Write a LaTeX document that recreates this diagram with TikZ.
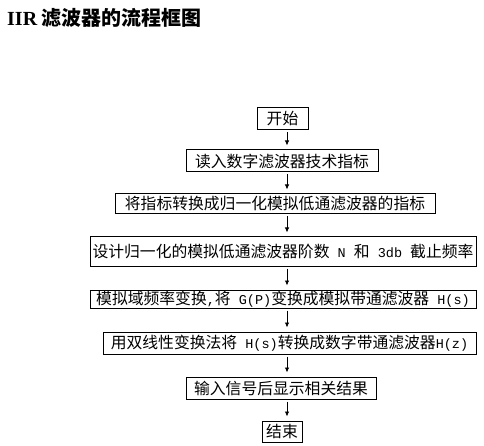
\documentclass[tikz,border=0pt]{standalone}
\usepackage{fontspec}
\usetikzlibrary{arrows.meta}
\setmainfont{Noto Sans CJK SC}
\newfontfamily\titlelat{Liberation Serif}
\newfontfamily\latfont{Liberation Mono}
\newcommand{\lat}[1]{{\fontsize{13.5}{13.5}\latfont #1}}
\begin{document}
\begin{tikzpicture}[x=1pt,y=-1pt,
  box/.style={draw=black, line width=1pt, inner sep=0pt, anchor=center,
    font=\fontsize{15.8}{16}\selectfont},
  arr/.style={-{Latex[length=5pt,width=4.5pt]}, line width=0.8pt,
    shorten <=2pt, shorten >=4pt}]
\useasboundingbox (0,0) rectangle (484,446);
\fill[white] (0,0) rectangle (484,446);
\node[anchor=west, inner sep=0pt] (title) at (7,17.5)
  {\fontsize{20}{20}\selectfont\bfseries{\titlelat IIR} 滤波器的流程框图};
\coordinate (ax) at (287,0);
\node[box, minimum width=51pt, minimum height=22pt] (b1) at (282.5,119) {开始};
\node[box, minimum width=192pt, minimum height=22pt] (b2) at (282,161) {读入数字滤波器技术指标};
\node[box, minimum width=320pt, minimum height=20pt] (b3) at (275,204) {将指标转换成归一化模拟低通滤波器的指标};
\node[box, minimum width=386pt, minimum height=29pt] (b4) at (283,251.5) {设计归一化的模拟低通滤波器阶数\lat{ N }和\lat{ 3db }截止频率};
\node[box, minimum width=386pt, minimum height=18pt] (b5) at (283,299) {模拟域频率变换\lat{,}将\lat{ G(P)}变换成模拟带通滤波器\lat{ H(s)}};
\node[box, minimum width=373pt, minimum height=22pt] (b6) at (289.5,343) {用双线性变换法将\lat{ H(s)}转换成数字带通滤波器\lat{H(z)}};
\node[box, minimum width=190pt, minimum height=22pt] (b7) at (281,388) {输入信号后显示相关结果};
\node[box, minimum width=40pt, minimum height=21pt] (b8) at (282,431.5) {结束};
\foreach \a/\b in {b1/b2,b2/b3,b3/b4,b4/b5,b5/b6,b6/b7,b7/b8}
  \draw[arr] (\a.south -| ax) -- (\b.north -| ax);
\end{tikzpicture}
\end{document}
